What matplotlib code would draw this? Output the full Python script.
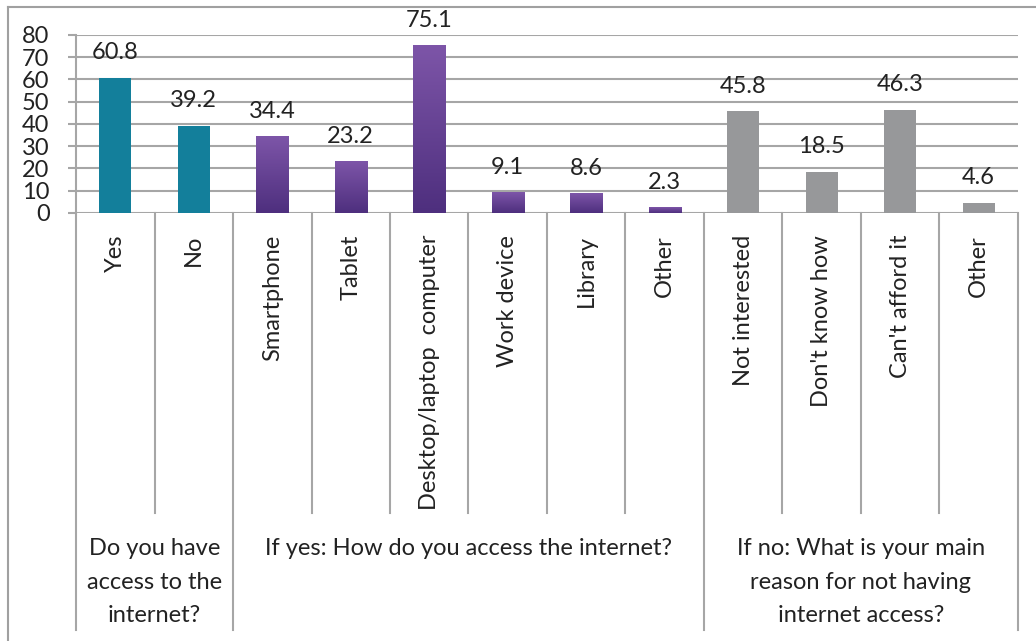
import matplotlib
matplotlib.use('Agg')
import matplotlib.pyplot as plt
import numpy as np
from matplotlib.colors import LinearSegmentedColormap
from matplotlib.lines import Line2D

plt.rcParams['font.family'] = ['Lato', 'DejaVu Sans']

# Data
categories = ['Yes', 'No', 'Smartphone', 'Tablet', 'Desktop/laptop  computer',
              'Work device', 'Library', 'Other', 'Not interested',
              "Don't know how", "Can't afford it", 'Other']
values = [60.8, 39.2, 34.4, 23.2, 75.1, 9.1, 8.6, 2.3, 45.8, 18.5, 46.3, 4.6]
group_labels = ['Do you have\naccess to the\ninternet?',
                'If yes: How do you access the internet?',
                'If no: What is your main\nreason for not having\ninternet access?']
group_sizes = [2, 6, 4]
yticks = [0, 10, 20, 30, 40, 50, 60, 70, 80]

teal = '#137F9B'
gray = '#97989A'
purple_cmap = LinearSegmentedColormap.from_list('purp', ['#4E2F7E', '#7D55A8'])
grid_col = '#A6A6A6'
text_col = '#222222'
fs = 17

fig = plt.figure(figsize=(10.36, 6.41), dpi=100)
W, H = 1036, 641
ax_l, ax_r, ax_t, ax_b = 76, 1018, 35, 213
ax = fig.add_axes([ax_l / W, 1 - ax_b / H, (ax_r - ax_l) / W, (ax_b - ax_t) / H])
ax_h = ax_b - ax_t

# group index for each category
grp = np.repeat(np.arange(len(group_sizes)), group_sizes)
x = np.arange(len(values))
bw = 0.41

for xi, v, g in zip(x, values, grp):
    if g == 1:
        grad = np.linspace(0, 1, 100).reshape(-1, 1)
        ax.imshow(grad, extent=(xi - bw / 2, xi + bw / 2, 0, v), origin='lower',
                  aspect='auto', cmap=purple_cmap, zorder=3)
    else:
        ax.bar(xi, v, width=bw, color=teal if g == 0 else gray, zorder=3)
    ax.annotate(f'{v}', (xi, v), xytext=(0, 18), textcoords='offset points',
                ha='center', va='center', fontsize=fs, color=text_col)

ax.set_xlim(-0.5, len(values) - 0.5)
ax.set_ylim(0, 80)
ax.set_yticks(yticks)
ax.yaxis.grid(True, color=grid_col, linewidth=1.5)
ax.set_axisbelow(True)
ax.tick_params(axis='y', length=6, width=1.5, color=grid_col, pad=13,
               labelsize=fs, labelcolor=text_col)
ax.set_xticks([])
for s in ['top', 'right', 'bottom']:
    ax.spines[s].set_visible(False)
ax.spines['left'].set_color(grid_col)
ax.spines['left'].set_linewidth(1.5)

trans = ax.get_xaxis_transform()
short_end = -(513 - ax_b) / ax_h
long_end = -(630 - ax_b) / ax_h

# category separators
bounds = np.cumsum([0] + group_sizes) - 0.5
for b in np.arange(len(values) + 1) - 0.5:
    end = long_end if np.isclose(bounds, b).any() else short_end
    ax.add_line(Line2D([b, b], [0, end], transform=trans, color=grid_col,
                       linewidth=1.5, clip_on=False))

# category labels
for xi, c in zip(x, categories):
    ax.text(xi, -22 / ax_h, c, transform=trans, rotation=90, ha='center',
            va='top', fontsize=fs, color=text_col)

# group labels
for i, lab in enumerate(group_labels):
    cx = (bounds[i] + bounds[i + 1]) / 2
    ax.text(cx, -(538 - ax_b) / ax_h, lab, transform=trans, ha='center',
            va='top', fontsize=fs, color=text_col, linespacing=1.75)

# outer frame
fig.add_artist(Line2D([8 / W, 8 / W], [0, 1 - 7 / H], color='#A0A0A0', linewidth=1.5))
fig.add_artist(Line2D([8 / W, 1], [1 - 7 / H, 1 - 7 / H], color='#A0A0A0', linewidth=1.5))

fig.savefig('out.png', dpi=100)
